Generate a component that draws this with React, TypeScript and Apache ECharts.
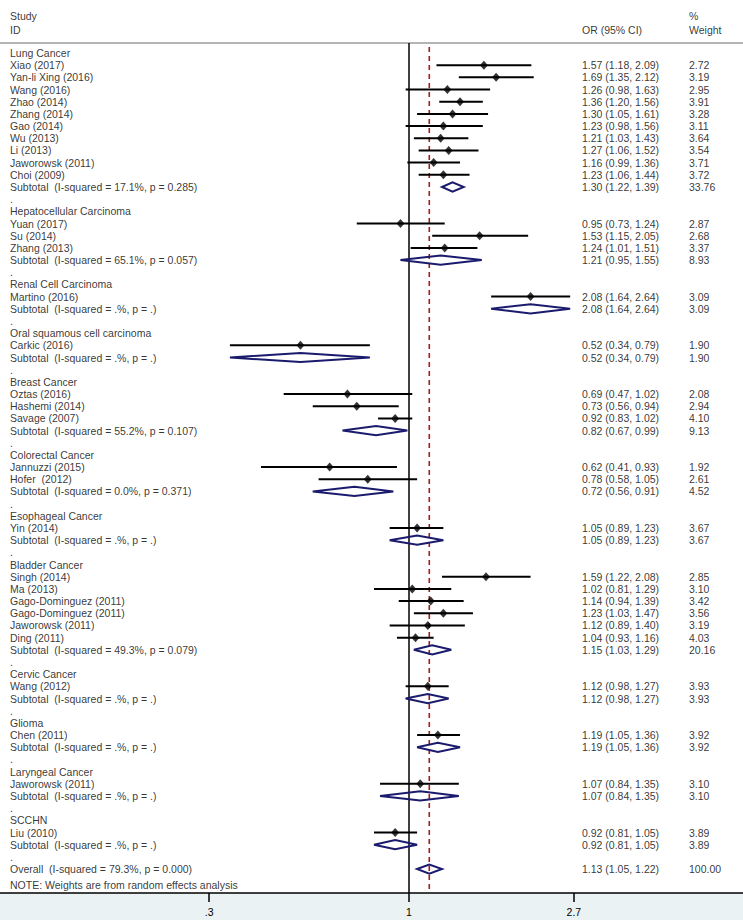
import React, { useEffect, useRef } from "react";
import * as echarts from "echarts";

// ---------- data ----------
const groupNames = [
  "Lung Cancer",
  "Hepatocellular Carcinoma",
  "Renal Cell Carcinoma",
  "Oral squamous cell carcinoma",
  "Breast Cancer",
  "Colorectal Cancer",
  "Esophageal Cancer",
  "Bladder Cancer",
  "Cervic Cancer",
  "Glioma",
  "Laryngeal Cancer",
  "SCCHN",
];
const groupHet = [
  "17.1%, p = 0.285",
  "65.1%, p = 0.057",
  ".%, p = .",
  ".%, p = .",
  "55.2%, p = 0.107",
  "0.0%, p = 0.371",
  ".%, p = .",
  "49.3%, p = 0.079",
  ".%, p = .",
  ".%, p = .",
  ".%, p = .",
  ".%, p = .",
];
const subOR = [1.3, 1.21, 2.08, 0.52, 0.82, 0.72, 1.05, 1.15, 1.12, 1.19, 1.07, 0.92];
const subLo = [1.22, 0.95, 1.64, 0.34, 0.67, 0.56, 0.89, 1.03, 0.98, 1.05, 0.84, 0.81];
const subHi = [1.39, 1.55, 2.64, 0.79, 0.99, 0.91, 1.23, 1.29, 1.27, 1.36, 1.35, 1.05];
const subWeight = [33.76, 8.93, 3.09, 1.9, 9.13, 4.52, 3.67, 20.16, 3.93, 3.92, 3.1, 3.89];

const studyNames = [
  "Xiao (2017)",
  "Yan-li Xing (2016)",
  "Wang (2016)",
  "Zhao (2014)",
  "Zhang (2014)",
  "Gao (2014)",
  "Wu (2013)",
  "Li (2013)",
  "Jaworowsk (2011)",
  "Choi (2009)",
  "Yuan (2017)",
  "Su (2014)",
  "Zhang (2013)",
  "Martino (2016)",
  "Carkic (2016)",
  "Oztas (2016)",
  "Hashemi (2014)",
  "Savage (2007)",
  "Jannuzzi (2015)",
  "Hofer  (2012)",
  "Yin (2014)",
  "Singh (2014)",
  "Ma (2013)",
  "Gago-Dominguez (2011)",
  "Gago-Dominguez (2011)",
  "Jaworowsk (2011)",
  "Ding (2011)",
  "Wang (2012)",
  "Chen (2011)",
  "Jaworowsk (2011)",
  "Liu (2010)",
];
const studyGroup = [
  0, 0, 0, 0, 0, 0, 0, 0, 0, 0, 1, 1, 1, 2, 3, 4, 4, 4, 5, 5, 6, 7, 7, 7, 7, 7, 7, 8, 9, 10, 11,
];
const studyOR = [
  1.57, 1.69, 1.26, 1.36, 1.3, 1.23, 1.21, 1.27, 1.16, 1.23, 0.95, 1.53, 1.24, 2.08, 0.52, 0.69, 0.73,
  0.92, 0.62, 0.78, 1.05, 1.59, 1.02, 1.14, 1.23, 1.12, 1.04, 1.12, 1.19, 1.07, 0.92,
];
const studyLo = [
  1.18, 1.35, 0.98, 1.2, 1.05, 0.98, 1.03, 1.06, 0.99, 1.06, 0.73, 1.15, 1.01, 1.64, 0.34, 0.47, 0.56,
  0.83, 0.41, 0.58, 0.89, 1.22, 0.81, 0.94, 1.03, 0.89, 0.93, 0.98, 1.05, 0.84, 0.81,
];
const studyHi = [
  2.09, 2.12, 1.63, 1.56, 1.61, 1.56, 1.43, 1.52, 1.36, 1.44, 1.24, 2.05, 1.51, 2.64, 0.79, 1.02, 0.94,
  1.02, 0.93, 1.05, 1.23, 2.08, 1.29, 1.39, 1.47, 1.4, 1.16, 1.27, 1.36, 1.35, 1.05,
];
const studyWeight = [
  2.72, 3.19, 2.95, 3.91, 3.28, 3.11, 3.64, 3.54, 3.71, 3.72, 2.87, 2.68, 3.37, 3.09, 1.9, 2.08, 2.94,
  4.1, 1.92, 2.61, 3.67, 2.85, 3.1, 3.42, 3.56, 3.19, 4.03, 3.93, 3.92, 3.1, 3.89,
];

const overallHet = "79.3%, p = 0.000";
const overallOR = 1.13;
const overallLo = 1.05;
const overallHi = 1.22;
const overallWeight = 100.0;

const noteText = "NOTE: Weights are from random effects analysis";
const headerLeft = ["Study", "ID"];
const headerOR = "OR (95% CI)";
const headerWeight = ["%", "Weight"];

const tickValues = [0.3, 1, 2.7];
const tickLabels = [".3", "1", "2.7"];

// ---------- layout ----------
const W = 743;
const H = 920;
const X_ONE = 409; // pixel of OR = 1
const PX_PER_LN = 166;
const ROW0_Y = 53;
const ROW_PX = 12.18;
const GRID_TOP = 3;
const AXIS_Y = 893;
const pxToX = (px: number) => (px - X_ONE) / PX_PER_LN;
const pxToRow = (py: number) => (py - ROW0_Y) / ROW_PX;

const FONT = "'Liberation Sans', Arial, Helvetica, sans-serif";
const FS = 10.5;
const NAVY = "#1b1b6e";
const RED = "#a01c1c";

type Row = { label: string; kind: string; or?: number; lo?: number; hi?: number; w?: number };

function buildRows(): Row[] {
  const rows: Row[] = [];
  groupNames.forEach((g, gi) => {
    rows.push({ label: g, kind: "group" });
    studyNames.forEach((s, si) => {
      if (studyGroup[si] === gi)
        rows.push({ label: s, kind: "study", or: studyOR[si], lo: studyLo[si], hi: studyHi[si], w: studyWeight[si] });
    });
    rows.push({
      label: "Subtotal  (I-squared = " + groupHet[gi] + ")",
      kind: "pooled",
      or: subOR[gi],
      lo: subLo[gi],
      hi: subHi[gi],
      w: subWeight[gi],
    });
    rows.push({ label: ".", kind: "blank" });
  });
  rows.push({
    label: "Overall  (I-squared = " + overallHet + ")",
    kind: "pooled",
    or: overallOR,
    lo: overallLo,
    hi: overallHi,
    w: overallWeight,
  });
  return rows;
}

const fmtCI = (r: Row) => `${r.or!.toFixed(2)} (${r.lo!.toFixed(2)}, ${r.hi!.toFixed(2)})`;

export default function App() {
  const ref = useRef<HTMLDivElement>(null);
  useEffect(() => {
    if (!ref.current) return;
    const chart = echarts.init(ref.current, null, { renderer: "svg" });
    const rows = buildRows();
    const yMin = pxToRow(GRID_TOP);
    const yMax = pxToRow(AXIS_Y);
    const xMin = pxToX(0);
    const xMax = pxToX(W);
    const headerLineRow = pxToRow(43);

    const textStyle = { fontFamily: FONT, fontSize: FS, color: "#000" };
    const textSeries = (name: string, px: number, items: { row: number; text: string }[]) => ({
      type: "scatter",
      name,
      symbolSize: 0,
      silent: true,
      clip: false,
      data: items.map((it) => ({ value: [pxToX(px), it.row], name: it.text })),
      label: {
        show: true,
        position: "right",
        distance: 0,
        formatter: "{b}",
        ...textStyle,
      },
    });

    const orTexts: { row: number; text: string }[] = [];
    const wTexts: { row: number; text: string }[] = [];
    rows.forEach((r, i) => {
      if (r.kind === "study" || r.kind === "pooled") {
        orTexts.push({ row: i, text: fmtCI(r) });
        wTexts.push({ row: i, text: r.w!.toFixed(2) });
      }
    });

    const refLines = [
      // x1, x2, y1, y2, style
      [xMin, xMax, headerLineRow, headerLineRow, 0],
      [0, 0, headerLineRow, yMax, 1],
      [Math.log(overallOR), Math.log(overallOR), pxToRow(47), yMax, 2],
    ];
    const refStyles = [
      { stroke: "#b4b4b4", lineWidth: 2 },
      { stroke: "#000", lineWidth: 1.5 },
      { stroke: RED, lineWidth: 1.6, lineDash: [5, 4] },
    ];

    const ciData: number[][] = [];
    const pointData: number[][] = [];
    const diamondData: number[][] = [];
    rows.forEach((r, i) => {
      if (r.kind === "study") {
        ciData.push([Math.log(r.lo!), Math.log(r.hi!), i]);
        pointData.push([Math.log(r.or!), i]);
      } else if (r.kind === "pooled") {
        diamondData.push([Math.log(r.lo!), Math.log(r.or!), Math.log(r.hi!), i]);
      }
    });

    const option: any = {
      animation: false,
      backgroundColor: "#fff",
      grid: { left: 0, right: 0, top: GRID_TOP, bottom: H - AXIS_Y, containLabel: false },
      xAxis: {
        type: "value",
        min: xMin,
        max: xMax,
        axisLine: { show: true, onZero: false, lineStyle: { color: "#000", width: 1.5 } },
        axisTick: {
          show: true,
          length: 9,
          lineStyle: { color: "#000", width: 1.5 },
          customValues: tickValues.map((v) => Math.log(v)),
        },
        axisLabel: {
          show: true,
          margin: 13,
          customValues: tickValues.map((v) => Math.log(v)),
          formatter: (v: number) => {
            let best = 0;
            tickValues.forEach((t, k) => {
              if (Math.abs(Math.log(t) - v) < Math.abs(Math.log(tickValues[best]) - v)) best = k;
            });
            return tickLabels[best];
          },
          fontFamily: FONT,
          fontSize: FS,
          color: "#000",
        },
        splitLine: { show: false },
      },
      yAxis: { type: "value", inverse: true, min: yMin, max: yMax, show: false },
      graphic: [
        {
          type: "rect",
          z: -10,
          silent: true,
          shape: { x: 0, y: AXIS_Y, width: W, height: H - AXIS_Y },
          style: { fill: "#eaf2f3" },
        },
      ],
      series: [
        {
          type: "custom",
          name: "refLines",
          silent: true,
          data: refLines,
          renderItem: (_p: any, api: any) => {
            const a = api.coord([api.value(0), api.value(2)]);
            const b = api.coord([api.value(1), api.value(3)]);
            return {
              type: "line",
              shape: { x1: a[0], y1: a[1], x2: b[0], y2: b[1] },
              style: refStyles[api.value(4)],
            };
          },
          z: 1,
        },
        {
          type: "custom",
          name: "ci",
          silent: true,
          data: ciData,
          renderItem: (_p: any, api: any) => {
            const a = api.coord([api.value(0), api.value(2)]);
            const b = api.coord([api.value(1), api.value(2)]);
            return {
              type: "line",
              shape: { x1: a[0], y1: a[1], x2: b[0], y2: b[1] },
              style: { stroke: "#000", lineWidth: 2 },
            };
          },
          z: 3,
        },
        {
          type: "scatter",
          name: "estimates",
          silent: true,
          symbol: "diamond",
          symbolSize: [8, 9],
          itemStyle: { color: "#000" },
          data: pointData,
          z: 4,
        },
        {
          type: "custom",
          name: "pooled",
          silent: true,
          data: diamondData,
          renderItem: (_p: any, api: any) => {
            const y = api.value(3);
            const l = api.coord([api.value(0), y]);
            const c = api.coord([api.value(1), y]);
            const r = api.coord([api.value(2), y]);
            const h = 4.6;
            return {
              type: "polygon",
              shape: {
                points: [
                  [l[0], l[1]],
                  [c[0], c[1] - h],
                  [r[0], r[1]],
                  [c[0], c[1] + h],
                ],
              },
              style: { fill: "none", stroke: NAVY, lineWidth: 2 },
            };
          },
          z: 4,
        },
        textSeries("studyLabels", 10, rows.map((r, i) => ({ row: i, text: r.label }))),
        textSeries("header", 10, [
          { row: pxToRow(16), text: headerLeft[0] },
          { row: pxToRow(30), text: headerLeft[1] },
          { row: pxToRow(885), text: noteText },
        ]),
        textSeries("orColumn", 582, [{ row: pxToRow(30), text: headerOR }, ...orTexts]),
        textSeries("weightColumn", 689, [
          { row: pxToRow(16), text: headerWeight[0] },
          { row: pxToRow(30), text: headerWeight[1] },
          ...wTexts,
        ]),
      ],
    };
    chart.setOption(option);
    return () => chart.dispose();
  }, []);
  return (
    <div
      ref={ref}
      style={{ position: "fixed", left: 0, top: 0, width: W, height: H, background: "#fff" }}
    />
  );
}
